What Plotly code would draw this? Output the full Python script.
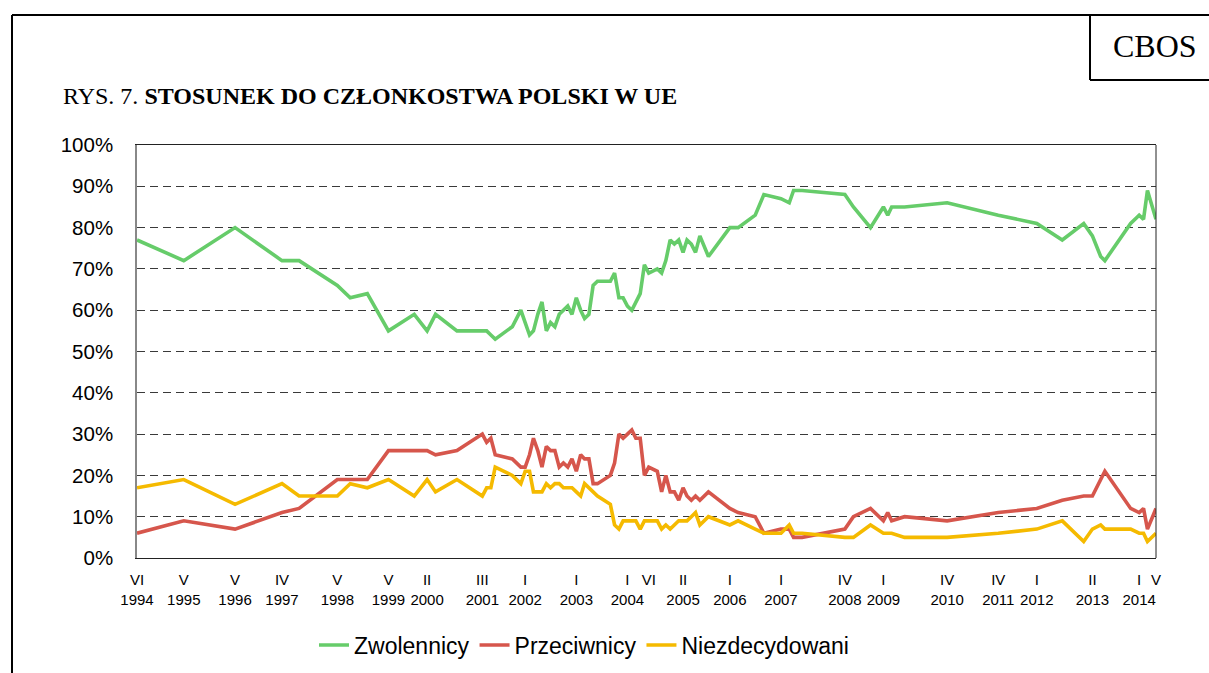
import plotly.graph_objects as go

# ---- data (survey dates and shares in %) ----
dates = [
    "1994-06-01", "1995-05-01", "1996-05-01", "1997-04-01", "1997-08-01", "1998-05-01", "1998-08-01", "1998-12-01",
    "1999-05-01", "1999-11-01", "2000-02-01", "2000-04-01", "2000-09-01",
    "2001-03-01", "2001-04-01", "2001-05-01", "2001-06-01", "2001-10-01", "2001-12-01",
    "2002-01-01", "2002-02-01", "2002-03-01", "2002-04-01", "2002-05-01", "2002-06-01",
    "2002-07-01", "2002-08-01", "2002-09-01", "2002-10-01", "2002-11-01", "2002-12-01",
    "2003-01-01", "2003-02-01", "2003-03-01", "2003-04-01", "2003-05-01", "2003-06-01",
    "2003-09-01", "2003-10-01", "2003-11-01", "2003-12-01",
    "2004-01-01", "2004-02-01", "2004-03-01", "2004-04-01", "2004-05-01", "2004-06-01",
    "2004-08-01", "2004-09-01", "2004-10-01", "2004-11-01", "2004-12-01",
    "2005-01-01", "2005-02-01", "2005-03-01", "2005-04-01", "2005-05-01", "2005-06-01", "2005-08-01",
    "2006-01-01", "2006-03-01", "2006-07-01", "2006-09-01",
    "2007-01-01", "2007-03-01", "2007-04-01", "2007-06-01",
    "2008-04-01", "2008-06-01", "2008-10-01",
    "2009-01-01", "2009-02-01", "2009-03-01", "2009-06-01",
    "2010-04-01", "2011-04-01", "2012-01-01", "2012-07-01", "2012-12-01",
    "2013-02-01", "2013-04-01", "2013-05-01", "2013-11-01",
    "2014-01-01", "2014-02-01", "2014-03-01", "2014-05-01",
]

zwolennicy = [
    77, 72, 80, 72, 72, 66, 63, 64,
    55, 59, 55, 59, 55,
    55, 55, 54, 53, 56, 60,
    57, 54, 55, 59, 62, 55, 57, 56, 59, 60, 61, 59,
    63, 60, 58, 59, 66, 67, 67, 69, 63, 63,
    61, 60, 62, 64, 71, 69, 70, 69, 72, 77, 76,
    77, 74, 77, 76, 74, 78, 73,
    80, 80, 83, 88,
    87, 86, 89, 89,
    88, 85, 80,
    85, 83, 85, 85,
    86, 83, 81, 77, 81,
    78, 73, 72, 81,
    83, 82, 89, 82,
]

przeciwnicy = [
    6, 9, 7, 11, 12, 19, 19, 19,
    26, 26, 26, 25, 26,
    30, 28, 29, 25, 24, 22,
    22, 25, 29, 26, 22, 27, 26, 26, 22, 23, 22, 24,
    21, 25, 24, 24, 18, 18, 20, 23, 30, 29,
    30, 31, 29, 29, 20, 22, 21, 16, 20, 16, 16,
    14, 17, 15, 14, 15, 14, 16,
    12, 11, 10, 6,
    7, 7, 5, 5,
    7, 10, 12,
    9, 11, 9, 10,
    9, 11, 12, 14, 15,
    15, 19, 21, 12,
    11, 12, 7, 12,
]

niezdecydowani = [
    17, 19, 13, 18, 15, 15, 18, 17,
    19, 15, 19, 16, 19,
    15, 17, 17, 22, 20, 18,
    21, 21, 16, 16, 16, 18, 17, 18, 18, 17, 17, 17,
    16, 15, 18, 17, 16, 15, 13, 8, 7, 9,
    9, 9, 9, 7, 9, 9, 9, 7, 8, 7, 8,
    9, 9, 9, 10, 11, 8, 10,
    8, 9, 7, 6,
    6, 8, 6, 6,
    5, 5, 8,
    6, 6, 6, 5,
    5, 6, 7, 9, 4,
    7, 8, 7, 7,
    6, 6, 4, 6,
]

tick_dates = ["1994-06-01", "1995-05-01", "1996-05-01", "1997-04-01", "1998-05-01", "1999-05-01",
              "2000-02-01", "2001-03-01", "2002-01-01", "2003-01-01", "2004-01-01", "2004-06-01",
              "2005-02-01", "2006-01-01", "2007-01-01", "2008-04-01", "2009-01-01", "2010-04-01",
              "2011-04-01", "2012-01-01", "2013-02-01", "2014-01-01", "2014-05-01"]
tick_months = ["VI", "V", "V", "IV", "V", "V", "II", "III", "I", "I", "I", "VI",
               "II", "I", "I", "IV", "I", "IV", "IV", "I", "II", "I", "V"]
tick_years = ["1994", "1995", "1996", "1997", "1998", "1999", "2000", "2001", "2002", "2003", "2004", "",
              "2005", "2006", "2007", "2008", "2009", "2010", "2011", "2012", "2013", "2014", ""]

series_names = ["Zwolennicy", "Przeciwnicy", "Niezdecydowani"]
series_colors = ["#66CC6A", "#D6564C", "#F5BA00"]

assert len(dates) == len(zwolennicy) == len(przeciwnicy) == len(niezdecydowani)

# ---- layout geometry (pixels) ----
W, H = 1209, 673
PL, PR, PT, PB = 137, 1156, 145, 558


def px(x):
    return (x - PL) / (PR - PL)


def py(y):
    return (PB - y) / (PB - PT)


ticktext = [m + ("<br>" + y if y else "") for m, y in zip(tick_months, tick_years)]

fig = go.Figure()
for name, vals, col in zip(series_names, [zwolennicy, przeciwnicy, niezdecydowani], series_colors):
    fig.add_trace(go.Scatter(x=dates, y=vals, mode="lines", name=name,
                             line=dict(color=col, width=3.6)))

fig.update_layout(
    width=W, height=H,
    margin=dict(l=PL, r=W - PR, t=PT, b=H - PB, autoexpand=False),
    paper_bgcolor="white", plot_bgcolor="white",
    font=dict(family="Liberation Sans, Arial", color="black"),
    showlegend=True,
    legend=dict(orientation="h", xref="container", yref="container",
                x=584 / W, y=1 - 645 / H, xanchor="center", yanchor="middle",
                font=dict(size=23, family="Liberation Sans, Arial"), itemwidth=30,
                tracegroupgap=0, bgcolor="rgba(0,0,0,0)"),
    xaxis=dict(type="date", range=[dates[0], dates[-1]], tickmode="array",
               tickvals=tick_dates, ticktext=ticktext, tickangle=0, automargin=False,
               tickfont=dict(size=15, family="Liberation Sans, Arial"),
               showgrid=False, ticks="", showline=True, linecolor="#222", linewidth=1,
               mirror=True, zeroline=False, ticklabelstandoff=8),
    yaxis=dict(range=[0, 100], tickmode="linear", tick0=0, dtick=10, ticksuffix="%",
               automargin=False,
               tickfont=dict(size=20.5, family="Liberation Sans, Arial"),
               showgrid=True, gridcolor="#3a3a3a", gridwidth=1, griddash="8px,5px",
               showline=True, linecolor="#888888", linewidth=1.5, ticks="",
               zeroline=False, ticklabelstandoff=18),
)

# right border of plot area
fig.add_shape(type="line", xref="paper", yref="paper", x0=1, x1=1, y0=0, y1=1,
              line=dict(color="#222", width=1))

# outer page frame and CBOS box
frame = dict(color="black", width=2)
fig.add_shape(type="line", xref="paper", yref="paper", x0=px(12), x1=px(W + 5), y0=py(15), y1=py(15), line=frame)
fig.add_shape(type="line", xref="paper", yref="paper", x0=px(12), x1=px(12), y0=py(15), y1=py(H + 5), line=frame)
fig.add_shape(type="line", xref="paper", yref="paper", x0=px(1090), x1=px(1090), y0=py(15), y1=py(80), line=frame)
fig.add_shape(type="line", xref="paper", yref="paper", x0=px(1090), x1=px(W + 5), y0=py(80), y1=py(80), line=frame)

fig.add_annotation(text="CBOS", xref="paper", yref="paper", x=px(1155), y=py(46),
                   xanchor="center", yanchor="middle", showarrow=False,
                   font=dict(family="Liberation Serif, Times New Roman", size=32, color="black"))

fig.add_annotation(text="RYS. 7. <b>STOSUNEK DO CZŁONKOSTWA POLSKI W UE</b>", xref="paper", yref="paper",
                   x=px(61), y=py(96), xanchor="left", yanchor="middle", showarrow=False,
                   font=dict(family="Liberation Serif, Times New Roman", size=24, color="black"))

fig.write_html("out.html", config={"displayModeBar": False},
               post_script="document.body.style.margin='0px';document.body.style.overflow='hidden';")
